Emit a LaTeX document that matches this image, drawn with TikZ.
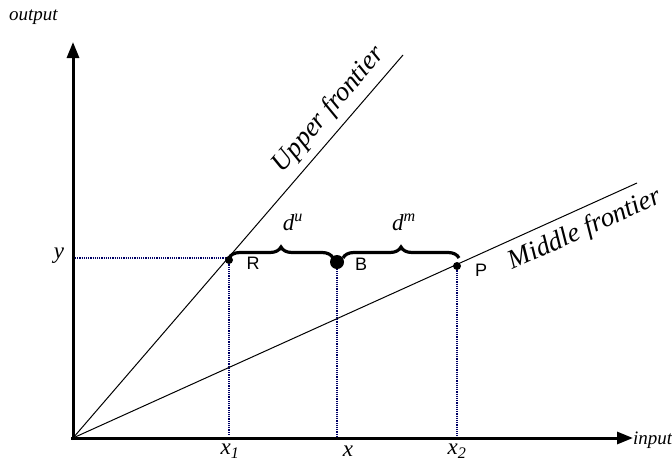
\documentclass[tikz,border=0pt]{standalone}
\usepackage{fontspec}
\setmainfont{Liberation Serif}
\newfontfamily\arialf{Liberation Sans}
\usetikzlibrary{arrows.meta,decorations.pathreplacing}
\begin{document}
\begin{tikzpicture}[x=1pt,y=1pt,
  axis/.style={line width=3pt,-{Triangle[length=16pt,width=12pt]}},
  frontier/.style={line width=1pt},
  guide/.style={densely dotted,line width=1.2pt,color=blue!40!black},
  bracestyle/.style={line width=3.2pt,decorate,decoration={brace,amplitude=11pt}},
  dotlab/.style={font=\arialf\fontsize{18}{18}\selectfont},
  ital/.style={font=\itshape\fontsize{23}{23}\selectfont},
  small/.style={font=\itshape\fontsize{19}{19}\selectfont},
  flab/.style={font=\itshape\fontsize{27}{27}\selectfont}]
\useasboundingbox (0,0) rectangle (672,-458);
% axes
\coordinate (O) at (73,-438);
\coordinate (ytop) at (73,-42);
\coordinate (xend) at (633,-438);
\draw[axis] (73,-440) -- (ytop);
\draw[axis] (71,-438) -- (xend);
\node[small,anchor=west,inner sep=0pt] (outlab) at (9,-17) {output};
\node[small,anchor=west,inner sep=0pt] (inlab) at (633,-440) {input};
% frontiers
\coordinate (uend) at (403,-55);
\coordinate (mend) at (637,-183);
\draw[frontier] (O) -- (uend);
\draw[frontier] (O) -- (mend);
\node[flab,rotate=49.2] (ulab) at (329,-110) {Upper frontier};
\node[flab,rotate=24.3] (mlab) at (585,-230) {Middle frontier};
% points
\coordinate (R) at (229,-260);
\coordinate (B) at (337,-262);
\coordinate (P) at (457,-266);
\coordinate (yax) at (75,-258);
\coordinate (Rx) at (229,-436);
\coordinate (Bx) at (337,-436);
\coordinate (Px) at (457,-436);
\draw[guide] (yax) -- (229,-258);
\draw[guide] (R) -- (Rx);
\draw[guide] (B) -- (Bx);
\draw[guide] (P) -- (Px);
\fill (R) circle (4pt);
\fill (B) circle (7pt);
\fill (P) circle (4pt);
\node[dotlab] (Rl) at (253,-263) {R};
\node[dotlab] (Bl) at (361,-264) {B};
\node[dotlab] (Pl) at (481,-270) {P};
% braces
\coordinate (b1a) at (229,-258);
\coordinate (b1b) at (333,-258);
\coordinate (b2a) at (343,-258);
\coordinate (b2b) at (459,-258);
\draw[bracestyle] (b1a) -- (b1b);
\draw[bracestyle] (b2a) -- (b2b);
\node[ital] (du) at (293,-222) {d\textsuperscript{u}};
\node[ital] (dm) at (404,-222) {d\textsuperscript{m}};
% labels
\node[ital] (ylab) at (59,-256) {y};
\node[ital] (x1lab) at (230,-451) {x\textsubscript{1}};
\node[ital] (xlab) at (348,-451) {x};
\node[ital] (x2lab) at (457,-451) {x\textsubscript{2}};
\end{tikzpicture}
\end{document}
